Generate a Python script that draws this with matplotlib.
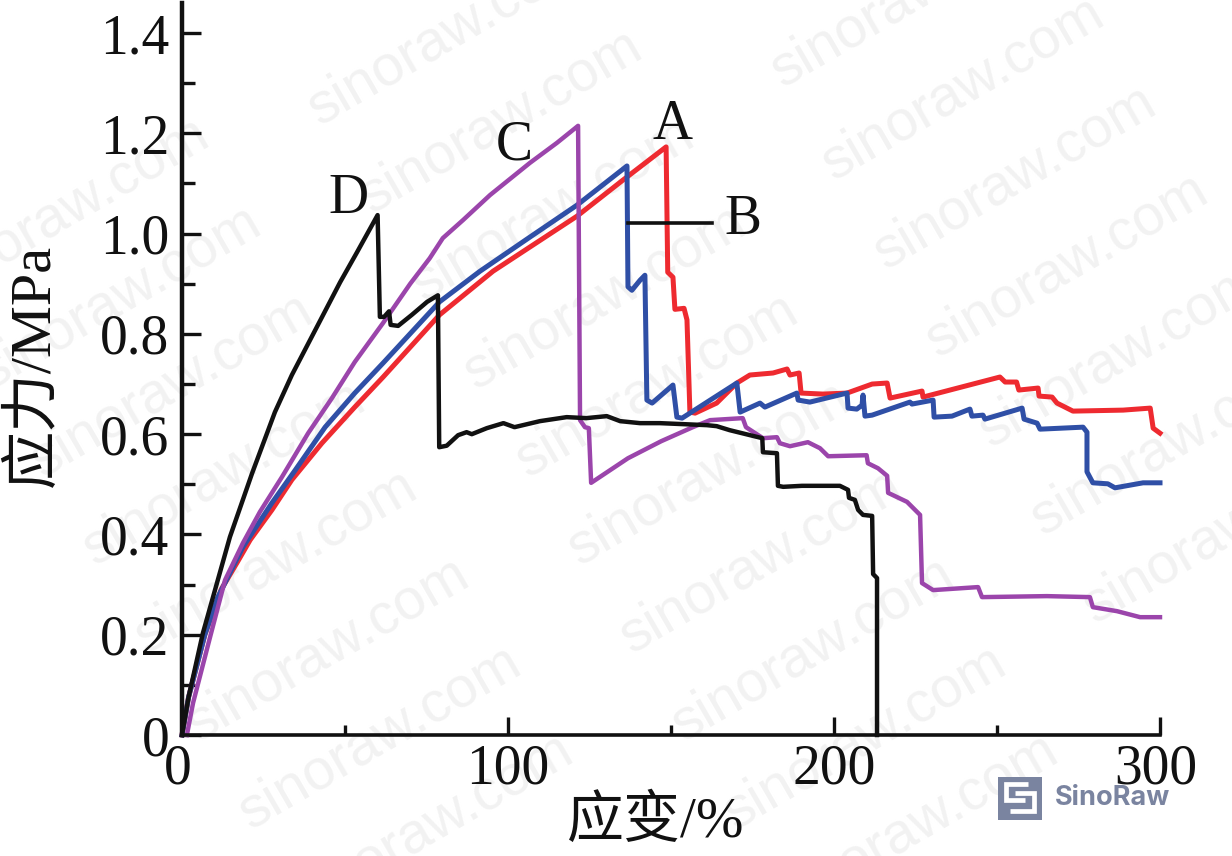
import matplotlib
matplotlib.use('Agg')
import matplotlib.pyplot as plt
from matplotlib.patches import Rectangle
from matplotlib.ticker import MultipleLocator, FuncFormatter
from matplotlib.transforms import ScaledTranslation

plt.rcParams['font.family'] = ['Liberation Serif', 'Noto Sans CJK SC', 'DejaVu Sans']

# Stress-strain curves, strain in %, stress in MPa
strain_a = [0, 2, 7, 12, 17, 20.9, 27.6, 33.7, 42.9, 53, 61.7, 79, 95.4, 121.2, 135.3, 148.5, 148.8, 149, 150.6,
            151.2, 154, 154.9, 155.8, 157.4, 164, 170.2, 174.2, 181.3, 185.6, 186.5, 189.3, 189.9, 196.6, 204,
            211.7, 216.3, 217.2, 227, 227.3, 250.9, 252.5, 256, 256.7, 262.6, 262.9, 266.9, 268.4, 273.3, 288.7,
            297, 297.9, 300]
stress_a = [0, 0.075, 0.2, 0.29, 0.345, 0.389, 0.449, 0.509, 0.582, 0.654, 0.714, 0.838, 0.925, 1.035, 1.107,
            1.173, 1.021, 0.923, 0.913, 0.849, 0.851, 0.828, 0.644, 0.642, 0.662, 0.702, 0.718, 0.722, 0.73, 0.718,
            0.722, 0.682, 0.68, 0.682, 0.7, 0.702, 0.672, 0.686, 0.674, 0.714, 0.704, 0.704, 0.688, 0.692, 0.676,
            0.674, 0.662, 0.646, 0.648, 0.652, 0.612, 0.602]

strain_b = [0, 2, 7, 11, 18.7, 27.6, 34.7, 43.9, 53, 61.7, 79, 91.4, 106.7, 121.2, 136.5, 136.8, 138, 140.5, 142,
            142.6, 144.2, 150.6, 151.8, 153.4, 170.2, 171.2, 177.3, 178.8, 188.6, 189, 192.6, 204, 204.3, 207,
            208.6, 208.9, 209.5, 211.7, 223.3, 223.9, 230.4, 230.7, 236.2, 241.7, 242.3, 245.7, 246.3, 257.7,
            258.3, 262.3, 263.2, 276.4, 277.6, 277.6, 279.4, 284, 286.2, 294.8, 300]
stress_b = [0, 0.075, 0.2, 0.275, 0.375, 0.463, 0.528, 0.614, 0.682, 0.742, 0.864, 0.925, 0.993, 1.057, 1.135,
            0.894, 0.887, 0.907, 0.917, 0.668, 0.662, 0.698, 0.634, 0.632, 0.702, 0.644, 0.662, 0.654, 0.682, 0.668,
            0.664, 0.682, 0.652, 0.65, 0.658, 0.678, 0.636, 0.638, 0.664, 0.66, 0.668, 0.634, 0.636, 0.65, 0.636,
            0.638, 0.63, 0.652, 0.63, 0.622, 0.61, 0.614, 0.604, 0.525, 0.503, 0.501, 0.493, 0.503, 0.503]

strain_c = [1.5, 3.4, 8.6, 13.2, 18.7, 23.9, 30.7, 38.7, 46, 53, 61.7, 70, 76, 80, 86.2, 94.5, 106.7, 115, 121.5,
            122.1, 123.6, 124.8, 125.5, 136.8, 147, 156.7, 162, 172, 173, 178.2, 182.5, 183.4, 186.5, 192, 195.7,
            198.2, 210, 210.4, 213.5, 216.3, 216.6, 222.4, 226.4, 227, 230.4, 244.2, 245.4, 265.3, 278.5, 279.4,
            286.8, 293.9, 300]
stress_c = [0, 0.064, 0.195, 0.309, 0.383, 0.445, 0.515, 0.602, 0.672, 0.744, 0.822, 0.9, 0.951, 0.991, 1.027,
            1.077, 1.141, 1.181, 1.215, 0.628, 0.614, 0.612, 0.503, 0.552, 0.586, 0.614, 0.628, 0.632, 0.614, 0.592,
            0.594, 0.582, 0.576, 0.584, 0.572, 0.556, 0.558, 0.542, 0.532, 0.517, 0.483, 0.465, 0.439, 0.303, 0.289,
            0.295, 0.275, 0.277, 0.275, 0.255, 0.247, 0.235, 0.235]

strain_d = [0, 2, 6.4, 14.7, 21.5, 28.5, 33.7, 39.3, 48.5, 53.7, 60, 60.7, 62, 63.5, 64, 66.3, 70.5, 75.2, 78.5,
            78.9, 81.2, 84.7, 87.3, 88.9, 93.5, 98.6, 102, 109.8, 118, 124, 130.3, 134.4, 140.5, 146.6, 161, 164,
            168, 178, 178.2, 182.5, 182.8, 184.4, 190.2, 201.8, 204.3, 204.6, 206.4, 207.4, 208.9, 211.7, 212,
            213.2, 213.2]
stress_d = [0, 0.075, 0.203, 0.395, 0.522, 0.644, 0.718, 0.788, 0.903, 0.963, 1.037, 0.834, 0.834, 0.845, 0.818,
            0.816, 0.838, 0.864, 0.877, 0.574, 0.577, 0.598, 0.604, 0.6, 0.612, 0.622, 0.614, 0.626, 0.634, 0.632,
            0.636, 0.626, 0.622, 0.622, 0.618, 0.616, 0.608, 0.592, 0.564, 0.562, 0.497, 0.495, 0.497, 0.497, 0.489,
            0.473, 0.469, 0.449, 0.439, 0.437, 0.321, 0.313, 0]

curves = [
    (strain_a, stress_a, '#ee2a30', 3.6),
    (strain_b, stress_b, '#2f4fa6', 3.6),
    (strain_c, stress_c, '#9b45ab', 3.2),
    (strain_d, stress_d, '#111111', 3.2),
]

curve_labels = ['A', 'B', 'C', 'D']
label_x = [150.6, 172, 102, 51]
label_y = [1.216, 1.027, 1.176, 1.07]

# Repeating site stamp behind the curves, pixel centres
stamp_x = [68, 120, 172, 224, 276, 328, 380, 432,
           449, 501, 553, 605, 657, 709, 761, 813, 865, 917,
           912, 963, 1015, 1067, 1120, 1172, 1224]
stamp_y = [209, 297, 385, 473, 561, 649, 737, 825,
           33, 121, 209, 297, 385, 473, 561, 649, 737, 825,
           -5, 88, 177, 265, 355, 443, 531]

fig = plt.figure(figsize=(12.32, 8.56), dpi=100)
ax = fig.add_axes([182 / 1232, 121 / 856, 978 / 1232, 732 / 856])
ax.patch.set_alpha(0)

for sx, sy in zip(stamp_x, stamp_y):
    fig.text(sx / 1232, 1 - sy / 856, 'sinoraw.com', family='Liberation Sans', fontsize=41, color='#f2f2f2',
             rotation=30, rotation_mode='anchor', ha='center', va='center', zorder=-1)

for x, y, c, lw in curves:
    ax.plot(x, y, color=c, lw=lw, solid_joinstyle='round', clip_on=False)

# Leader from curve B to its letter
ax.plot([136.8, 162.6], [1.021, 1.021], color='#111111', lw=2.6)

for name, lx, ly in zip(curve_labels, label_x, label_y):
    ax.text(lx, ly, name, fontsize=40, color='#111111', ha='center', va='center')

ax.set_xlim(0, 300)
ax.set_ylim(0, 1.46)
ax.spines['top'].set_visible(False)
ax.spines['right'].set_visible(False)
ax.spines['left'].set_linewidth(3.2)
ax.spines['bottom'].set_linewidth(2.6)
ax.spines['left'].set_color('#111111')
ax.spines['bottom'].set_color('#111111')

ax.xaxis.set_major_locator(MultipleLocator(100))
ax.xaxis.set_minor_locator(MultipleLocator(50))
ax.yaxis.set_major_locator(MultipleLocator(0.2))
ax.yaxis.set_minor_locator(MultipleLocator(0.1))
ax.yaxis.set_major_formatter(FuncFormatter(lambda v, _: '0' if abs(v) < 1e-9 else f'{v:.1f}'))
ax.tick_params(axis='x', which='major', direction='in', length=13, width=2.4, labelsize=40, pad=6, colors='#111111')
ax.tick_params(axis='x', which='minor', direction='in', length=7, width=2.4, colors='#111111')
ax.tick_params(axis='y', which='major', direction='in', length=14, width=2.4, labelsize=40, pad=9, colors='#111111')
ax.tick_params(axis='y', which='minor', direction='in', length=9, width=2.4, colors='#111111')

# The end labels sit a little to the left of their ticks
fig.canvas.draw()
nudge = ScaledTranslation(-4 / 100, 0, fig.dpi_scale_trans)
for tick in ax.xaxis.get_major_ticks():
    if tick.get_loc() in (0, 300):
        tick.label1.set_transform(tick.label1.get_transform() + nudge)

fig.text(656 / 1232, 1 - 822 / 856, '应变/%', fontsize=41, color='#111111', ha='center', va='center')
fig.text(34 / 1232, 1 - 365 / 856, '应力/MPa', fontsize=42, color='#111111', ha='center', va='center', rotation=90)

# Logo block, drawn in pixel coordinates
logo = fig.add_axes([0, 0, 1, 1], facecolor='none')
logo.set_xlim(0, 1232)
logo.set_ylim(856, 0)
logo.axis('off')
logo.add_patch(Rectangle((998, 777), 44, 43, color='#7a84a0', lw=0))
logo.plot([1028, 1006, 1006, 1025], [784, 784, 800, 800], color='white', lw=3.4, solid_joinstyle='miter',
          solid_capstyle='butt')
logo.plot([1010, 1034, 1034, 1015], [811, 811, 793, 793], color='white', lw=3.4, solid_joinstyle='miter',
          solid_capstyle='butt')
logo.text(1055, 798, 'SinoRaw', family='Inter', weight='bold', fontsize=19.5, color='#7a84a0', va='center')

fig.savefig('out.png', dpi=100)
